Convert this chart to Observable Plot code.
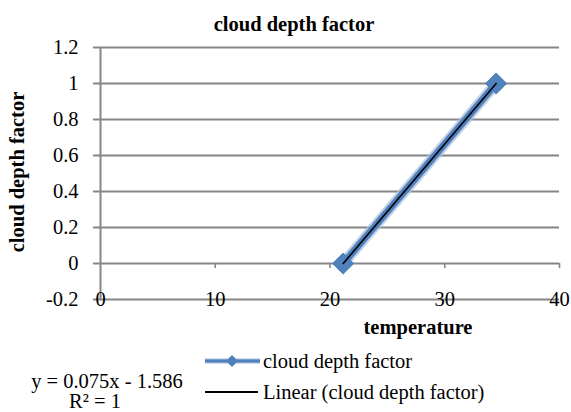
<!DOCTYPE html>
<html><head><meta charset="utf-8">
<script src="https://cdn.jsdelivr.net/npm/d3@7"></script>
<script src="https://cdn.jsdelivr.net/npm/@observablehq/plot@0.6"></script>
<style>
body{margin:0;background:#fff;}
#chart{position:relative;width:571px;height:412px;font-family:"Liberation Serif","Times New Roman",serif;color:#000;}
#chart svg{position:absolute;left:0;top:0;}
#chart svg text{font-family:"Liberation Serif","Times New Roman",serif !important;}
.lbl{position:absolute;white-space:nowrap;line-height:1;transform:translate(-50%,-50%);}
.b{font-weight:bold;}
.leg{position:absolute;white-space:nowrap;line-height:1;transform:translate(0,-50%);font-size:20.5px;}
</style></head><body><div id="chart"></div>
<script>
// data
const temperature = [21.15, 34.48];
const cloudDepthFactor = [0, 1];
const xTicks = [0, 10, 20, 30, 40];
const yTicks = [-0.2, 0, 0.2, 0.4, 0.6, 0.8, 1.0, 1.2];
const yTickLabels = ["-0.2", "0", "0.2", "0.4", "0.6", "0.8", "1", "1.2"];
const chartTitle = "cloud depth factor";
const xLabel = "temperature";
const yLabel = "cloud depth factor";
const seriesName = "cloud depth factor";
const trendName = "Linear (cloud depth factor)";
const equationText = "y = 0.075x - 1.586";
const r2Text = "R² = 1";

const blue = "#4F81BD";
const grid = "#868686";
const data = temperature.map((t, i) => ({x: t, y: cloudDepthFactor[i]}));

const plot = Plot.plot({
  width: 571,
  height: 412,
  marginLeft: 100,
  marginRight: 12,
  marginTop: 47,
  marginBottom: 113,
  style: {fontFamily: "Liberation Serif, serif", fontSize: "20.5px", background: "transparent", color: "#000"},
  x: {domain: [0, 40], ticks: xTicks, axis: null},
  y: {domain: [-0.2, 1.2], ticks: yTicks, axis: null},
  marks: [
    Plot.ruleY(yTicks, {stroke: grid, strokeWidth: 2}),
    Plot.axisY({ticks: yTicks, tickSize: 7, tickPadding: 15, stroke: grid, strokeWidth: 2,
      tickFormat: d => yTickLabels[yTicks.indexOf(d)], label: null, fill: "#000", fontFamily: "Liberation Serif, serif"}),
    Plot.ruleX([0], {stroke: grid, strokeWidth: 2}),
    Plot.ruleX(xTicks.filter(d => d > 0), {y1: 0, y2: -0.028, stroke: grid, strokeWidth: 1.6}),
    Plot.text(xTicks, {x: d => d, frameAnchor: "bottom", lineAnchor: "middle", text: d => String(d), fill: "#000", fontFamily: "Liberation Serif, serif"}),
    Plot.line(data, {x: "x", y: "y", stroke: "#a8bfdc", strokeWidth: 11, strokeOpacity: 0.7}),
    Plot.line(data, {x: "x", y: "y", stroke: blue, strokeWidth: 7}),
    Plot.dot(data, {x: "x", y: "y", symbol: "diamond2", r: 9.5, fill: blue, stroke: blue, strokeWidth: 1}),
    Plot.linearRegressionY(data, {x: "x", y: "y", stroke: "#000", strokeWidth: 1.6, ci: 0})
  ]
});
const chart = document.getElementById("chart");
chart.appendChild(plot);

function addLabel(text, cls, x, y, extra) {
  const d = document.createElement("div");
  d.className = cls;
  d.textContent = text;
  d.style.left = x + "px";
  d.style.top = y + "px";
  Object.assign(d.style, extra || {});
  chart.appendChild(d);
  return d;
}
addLabel(chartTitle, "lbl b", 294, 24, {fontSize: "20.5px"});
addLabel(xLabel, "lbl b", 418, 327, {fontSize: "20.5px"});
addLabel(yLabel, "lbl b", 17, 172, {fontSize: "20.5px", transform: "translate(-50%,-50%) rotate(-90deg)"});
addLabel(equationText, "lbl", 107, 381, {fontSize: "20.5px"});
addLabel(r2Text, "lbl", 95, 401, {fontSize: "20.5px"});

// legend
const legend = document.createElementNS("http://www.w3.org/2000/svg", "svg");
legend.setAttribute("width", 60); legend.setAttribute("height", 50);
legend.style.left = "203px"; legend.style.top = "350px";
legend.innerHTML =
  '<line x1="2" x2="57" y1="11" y2="11" stroke="#a8bfdc" stroke-width="5"/>' +
  '<line x1="2" x2="57" y1="11" y2="11" stroke="' + blue + '" stroke-width="3"/>' +
  '<path d="M29,5 L35,11 L29,17 L23,11 Z" fill="' + blue + '"/>' +
  '<line x1="2" x2="55" y1="42" y2="42" stroke="#000" stroke-width="1.8"/>';
chart.appendChild(legend);
addLabel(seriesName, "leg", 263, 361);
addLabel(trendName, "leg", 263, 392);
</script></body></html>
